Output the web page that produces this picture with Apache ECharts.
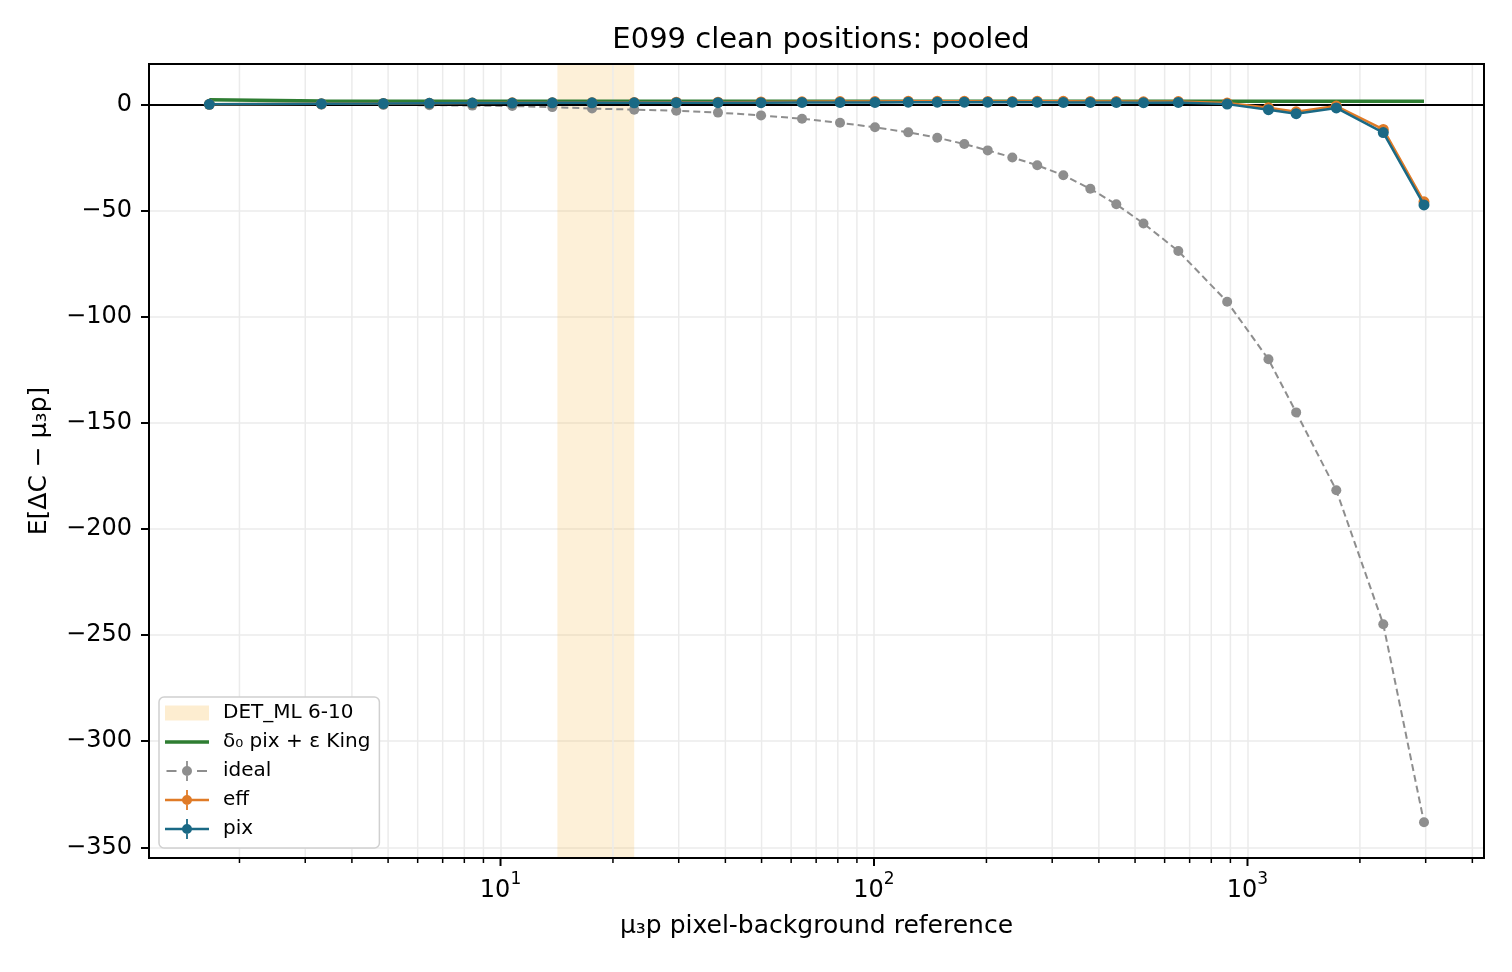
<!DOCTYPE html>
<html>
<head>
<meta charset="utf-8">
<title>E099 clean positions: pooled</title>
<script src="https://cdn.jsdelivr.net/npm/echarts@6/dist/echarts.min.js"></script>
<style>
    *{margin:0;padding:0;}
    html,body{background:#fff;}
    #chart{width:1512px;height:972px;}
</style>
</head>
<body>
<div id="chart"></div>
<script>
    // values
    const mu3p  = [1.661, 3.314, 4.857, 6.448, 8.404, 10.75, 13.76, 17.58, 22.80, 29.56, 38.22, 49.83, 64.16, 81.10, 100.6, 123.5,
                   147.7, 174.5, 201.6, 234.6, 273.6, 321.3, 379.5, 445.4, 526.7, 652.8, 882.2, 1138, 1350, 1729, 2310, 2969];
    const ideal = [-0.05, -0.15, -0.3, -0.4, -0.6, -0.8, -1.3, -2.0, -2.5, -3.0, -3.9, -5.2, -6.8, -8.7, -10.8, -13.2,
                   -15.7, -18.7, -21.7, -25.0, -28.7, -33.4, -39.8, -47.1, -56.1, -69.1, -93.0, -120.1, -145.1, -181.8, -244.9, -338.2];
    const eff   = [0.0, 0.3, 0.4, 0.5, 0.6, 0.7, 0.8, 0.8, 0.9, 1.0, 1.0, 1.1, 1.2, 1.3, 1.3, 1.4,
                   1.4, 1.4, 1.3, 1.3, 1.4, 1.4, 1.3, 1.3, 1.2, 1.3, 0.6, -1.6, -3.5, -0.8, -11.8, -45.9];
    const pix   = [0.0, 0.3, 0.4, 0.5, 0.6, 0.6, 0.7, 0.7, 0.7, 0.8, 0.8, 0.8, 0.9, 0.9, 0.9, 1.0,
                   1.0, 1.0, 1.0, 1.0, 1.0, 0.9, 0.9, 0.9, 0.8, 0.9, 0.1, -2.5, -4.4, -1.7, -13.3, -47.4];
    const model = [2.2, 1.6, 1.5, 1.45, 1.4, 1.4, 1.4, 1.4, 1.4, 1.4, 1.4, 1.4, 1.4, 1.4, 1.4, 1.4,
                   1.4, 1.4, 1.4, 1.4, 1.4, 1.4, 1.4, 1.4, 1.4, 1.4, 1.4, 1.4, 1.4, 1.4, 1.4, 1.4];
    const detBand = [14.2, 22.8];
    const xMajor = [10, 100, 1000];
    const xMinor = [2, 3, 4, 5, 6, 7, 8, 9, 20, 30, 40, 50, 60, 70, 80, 90,
                    200, 300, 400, 500, 600, 700, 800, 900, 2000, 3000, 4000];
    const yTicks = [-350, -300, -250, -200, -150, -100, -50, 0];

    const FONT = 'DejaVu Sans';
    const C_BAND = 'rgba(245,180,60,0.2)';
    const C_MODEL = '#2e7d32';
    const C_IDEAL = '#8e8e8e';
    const C_EFF = '#e07b27';
    const C_PIX = '#1a6985';
    const NAME_MODEL = 'δ₀ pix + ε King';

    // legend handles, 44x20 boxes (tiny corner dots pin the box size)
    const CORNERS = 'M0,0h0.02v0.02h-0.02Z M43.98,19.98h0.02v0.02h-0.02Z ';
    const DOT = 'M17,10 A5,5 0 1,1 27,10 A5,5 0 1,1 17,10 Z ';
    const EBAR = 'M21.1,0 H22.9 V20 H21.1 Z ';
    const ICON_BAND = 'path://' + CORNERS + 'M0,2.5 H44 V17.5 H0 Z';
    const ICON_LINE = 'path://' + CORNERS + 'M0,8.2 H44 V11.8 H0 Z';
    const ICON_ERR = 'path://' + CORNERS + 'M0,8.8 H44 V11.2 H0 Z ' + DOT + EBAR;
    const ICON_ERR_DASH = 'path://' + CORNERS + 'M1.5,9 H11.5 V11 H1.5 Z M32,9 H42 V11 H32 Z ' + DOT + EBAR;

    const pairs = arr => mu3p.map((x, i) => [x, arr[i]]);
    const isPow10 = v => Math.abs(Math.log10(v) - Math.round(Math.log10(v))) < 1e-6;

    const tickData = xMinor.map(v => [v, 0, 0]).concat(xMajor.map(v => [v, 0, 1]));

    let chart = echarts.init(document.getElementById('chart'));
    let option = {
        backgroundColor: '#fff',
        animation: false,
        title: {
            text: 'E099 clean positions: pooled',
            left: 816, textAlign: 'center',
            top: 21,
            textStyle: {fontFamily: FONT, fontSize: 29, fontWeight: 'normal', color: '#000'}
        },
        grid: {
            left: 149, right: 28, top: 64, bottom: 114,
            show: true, borderColor: '#000', borderWidth: 2,
            z: 10,
            outerBoundsMode: 'none'
        },
        legend: {
            orient: 'vertical',
            left: 159, top: 697,
            padding: [6, 9, 9, 6],
            itemGap: 9,
            itemWidth: 44, itemHeight: 20,
            backgroundColor: '#fff',
            borderColor: '#d0d0d0', borderWidth: 1.5, borderRadius: 5,
            textStyle: {fontFamily: FONT, fontSize: 20, color: '#000', padding: [0, 0, 0, 9]},
            data: [
                {name: 'DET_ML 6-10', icon: ICON_BAND, itemStyle: {color: 'rgba(245,180,60,0.24)'}},
                {name: NAME_MODEL, icon: ICON_LINE, itemStyle: {color: C_MODEL}},
                {name: 'ideal', icon: ICON_ERR_DASH, itemStyle: {color: C_IDEAL}},
                {name: 'eff', icon: ICON_ERR, itemStyle: {color: C_EFF}},
                {name: 'pix', icon: ICON_ERR, itemStyle: {color: C_PIX}}
            ]
        },
        xAxis: {
            type: 'log',
            logBase: 10,
            min: 1.145, max: 4298,
            name: 'μ₃p pixel-background reference',
            nameLocation: 'middle',
            nameGap: 56,
            nameTextStyle: {fontFamily: FONT, fontSize: 25, color: '#000'},
            axisLine: {show: false},
            axisTick: {show: false},
            axisLabel: {
                margin: 13,
                formatter: function (v) {
                    if (!isPow10(v)) return '';
                    return '{b|10}{s|' + Math.round(Math.log10(v)) + '}';
                },
                rich: {
                    b: {fontFamily: FONT, fontSize: 24, color: '#000', padding: [8, 0, 0, 0]},
                    s: {fontFamily: FONT, fontSize: 17, color: '#000', verticalAlign: 'top'}
                }
            },
            splitLine: {show: true, lineStyle: {color: '#ebebeb', width: 1.5}}
        },
        yAxis: {
            type: 'value',
            min: -355, max: 19,
            name: 'E[ΔC − μ₃p]',
            nameLocation: 'middle',
            nameGap: 97,
            nameTextStyle: {fontFamily: FONT, fontSize: 25, color: '#000'},
            axisLine: {show: false},
            axisTick: {show: true, length: 8, lineStyle: {color: '#000', width: 2}, customValues: yTicks},
            axisLabel: {
                customValues: yTicks,
                margin: 17,
                fontFamily: FONT, fontSize: 24, color: '#000',
                formatter: v => v < 0 ? '\u2212' + (-v) : String(v)
            },
            splitLine: {show: true, lineStyle: {color: '#ebebeb', width: 1.5}}
        },
        series: [
            {
                // minor grid lines and all x ticks, placed through the log axis
                type: 'custom',
                silent: true,
                clip: false,
                z: 1,
                data: tickData,
                renderItem: function (params, api) {
                    const cs = params.coordSys;
                    const x = api.coord([api.value(0), 0])[0];
                    const major = api.value(2) === 1;
                    const kids = [{
                        type: 'line',
                        shape: {x1: x, y1: cs.y + cs.height, x2: x, y2: cs.y + cs.height + (major ? 8 : 5)},
                        style: {stroke: '#000', lineWidth: major ? 2 : 1.5}
                    }];
                    if (!major) {
                        kids.push({
                            type: 'line',
                            shape: {x1: x, y1: cs.y, x2: x, y2: cs.y + cs.height},
                            style: {stroke: '#ebebeb', lineWidth: 1.5}
                        });
                    }
                    return {type: 'group', children: kids};
                }
            },
            {
                name: 'DET_ML 6-10',
                type: 'line',
                data: [],
                z: 2,
                itemStyle: {color: C_BAND},
                markArea: {
                    silent: true,
                    itemStyle: {color: C_BAND},
                    data: [[{xAxis: detBand[0]}, {xAxis: detBand[1]}]]
                },
                markLine: {
                    silent: true,
                    symbol: 'none',
                    label: {show: false},
                    lineStyle: {color: '#000', width: 2, type: 'solid'},
                    data: [{yAxis: 0}]
                }
            },
            {
                name: NAME_MODEL,
                type: 'line',
                data: pairs(model),
                z: 3,
                showSymbol: false,
                symbol: 'none',
                itemStyle: {color: C_MODEL},
                lineStyle: {color: C_MODEL, width: 3.5}
            },
            {
                name: 'ideal',
                type: 'line',
                data: pairs(ideal),
                z: 4,
                symbol: 'circle',
                symbolSize: 10,
                itemStyle: {color: C_IDEAL},
                lineStyle: {color: C_IDEAL, width: 2, type: [7, 4]}
            },
            {
                name: 'eff',
                type: 'line',
                data: pairs(eff),
                z: 5,
                symbol: 'circle',
                symbolSize: 11,
                itemStyle: {color: C_EFF},
                lineStyle: {color: C_EFF, width: 2.5}
            },
            {
                name: 'pix',
                type: 'line',
                data: pairs(pix),
                z: 6,
                symbol: 'circle',
                symbolSize: 11,
                itemStyle: {color: C_PIX},
                lineStyle: {color: C_PIX, width: 2.5}
            }
        ]
    };
    chart.setOption(option);
</script>
</body>
</html>
